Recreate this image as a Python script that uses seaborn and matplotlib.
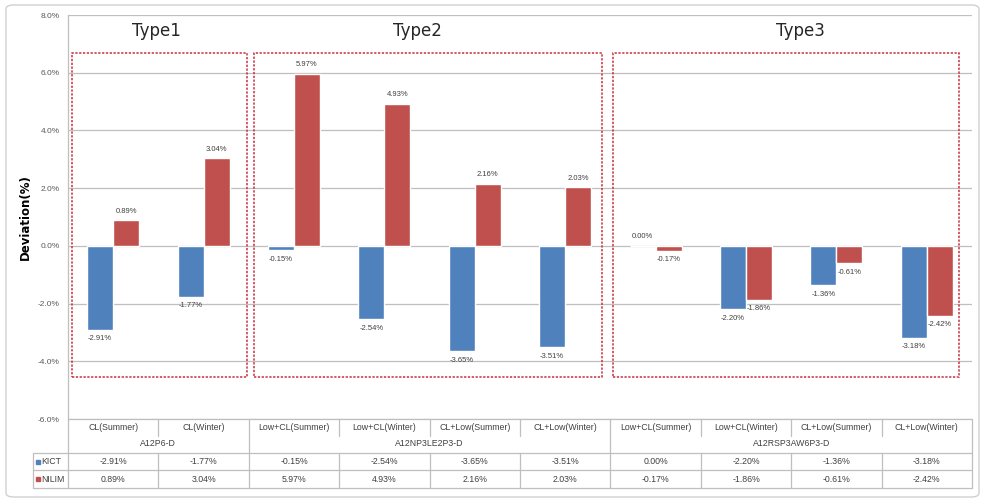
import pandas as pd
import seaborn as sns
import matplotlib.pyplot as plt
from matplotlib.patches import Rectangle, FancyBboxPatch

# chart data
categories = ["CL(Summer)", "CL(Winter)",
              "Low+CL(Summer)", "Low+CL(Winter)", "CL+Low(Summer)", "CL+Low(Winter)",
              "Low+CL(Summer)", "Low+CL(Winter)", "CL+Low(Summer)", "CL+Low(Winter)"]
groups = ["A12P6-D", "A12NP3LE2P3-D", "A12RSP3AW6P3-D"]
group_sizes = [2, 4, 4]
type_names = ["Type1", "Type2", "Type3"]
series = ["KICT", "NILIM"]
kict = [-2.91, -1.77, -0.15, -2.54, -3.65, -3.51, 0.00, -2.20, -1.36, -3.18]
nilim = [0.89, 3.04, 5.97, 4.93, 2.16, 2.03, -0.17, -1.86, -0.61, -2.42]
yticks = [-6, -4, -2, 0, 2, 4, 6, 8]

blue = "#4f81bd"
red = "#c0504d"
grid_c = "#bfbfbf"
txt_c = "#404040"

n = len(categories)
df = pd.DataFrame({
    "pos": list(range(n)) * 2,
    "value": kict + nilim,
    "series": ["KICT"] * n + ["NILIM"] * n,
})

sns.set_theme(style="white")
plt.rcParams["font.family"] = ["Liberation Sans", "DejaVu Sans"]

W, H = 984, 501
fig = plt.figure(figsize=(W / 100, H / 100), dpi=100)
fig.patch.set_facecolor("white")

# plot area in pixels: left 68, right 972, top 15, bottom 419
ax = fig.add_axes([68 / W, 1 - 419 / H, 904 / W, 404 / H])
sns.barplot(data=df, x="pos", y="value", hue="series", hue_order=series,
            order=list(range(n)), palette=[blue, red], saturation=1,
            width=0.575, errorbar=None, legend=False, ax=ax, zorder=2)

ax.set_xlim(-0.5, n - 0.5)
ax.set_ylim(-6, 8)
ax.set_xticks([])
ax.set_xlabel("")
ax.set_yticks(yticks)
ax.set_yticklabels([f"{v:.1f}%" for v in yticks], fontsize=6, color="#595959")
ax.tick_params(axis="y", length=0, pad=6)
ax.yaxis.grid(True, color=grid_c, lw=0.9, zorder=0)
ax.set_axisbelow(True)
for s in ["top", "right", "bottom"]:
    ax.spines[s].set_visible(False)
ax.spines["left"].set_color(grid_c)
ax.spines["left"].set_linewidth(0.9)
ax.set_ylabel("Deviation(%)", fontsize=8.5, fontweight="bold", color="black",
              family=["DejaVu Sans"], labelpad=4)

for cont, vals in zip(ax.containers, [kict, nilim]):
    ax.bar_label(cont, labels=[f"{v:.2f}%" for v in vals], padding=4,
                 fontsize=5.5, color=txt_c)

# dashed "Type" boxes
type_spans = [(-0.46, 1.48), (1.56, 5.41), (5.53, 9.36)]
type_label_x = [0.48, 3.37, 7.6]
for (x0, x1), name, tx in zip(type_spans, type_names, type_label_x):
    ax.add_patch(Rectangle((x0, -4.54), x1 - x0, 6.68 + 4.54, fill=False,
                           ec="#c8303f", lw=1.1, ls=(0, (1.5, 1)), zorder=3))
    ax.text(tx, 7.45, name, ha="center", va="center", fontsize=12,
            color="#262626", family=["DejaVu Sans"])

# data table below the plot
tab = fig.add_axes([33 / W, 1 - 488 / H, (972 - 33) / W, 69 / H])
xmin = -0.5 - 35 / 90.4
tab.set_xlim(xmin, n - 0.5)
tab.set_ylim(69, 0)
tab.axis("off")
lk = dict(color=grid_c, lw=0.9, clip_on=False)
tab.plot([-0.5, n - 0.5], [0, 0], **lk)
for yy in [34, 51, 69]:
    tab.plot([xmin, n - 0.5], [yy, yy], **lk)
tab.plot([xmin, xmin], [34, 69], **lk)
tab.plot([-0.5, -0.5], [0, 69], **lk)
edges = [-0.5]
for g in group_sizes:
    edges.append(edges[-1] + g)
for e in edges[1:]:
    tab.plot([e, e], [0, 69], **lk)
for i in range(n - 1):
    b = i + 0.5
    if b not in edges:
        tab.plot([b, b], [0, 17], **lk)
        tab.plot([b, b], [34, 69], **lk)

for i, c in enumerate(categories):
    tab.text(i, 9, c, ha="center", va="center", fontsize=6.3, color=txt_c)
for g, a, b in zip(groups, edges[:-1], edges[1:]):
    tab.text((a + b) / 2, 25, g, ha="center", va="center", fontsize=6.3, color=txt_c)
for row_y, vals in zip([42.5, 60], [kict, nilim]):
    for i, v in enumerate(vals):
        tab.text(i, row_y, f"{v:.2f}%", ha="center", va="center", fontsize=6.3, color=txt_c)
for row_y, name, col in zip([42.5, 60], series, [blue, red]):
    tab.plot([xmin + 0.05], [row_y], marker="s", ms=3, color=col, clip_on=False)
    tab.text(xmin + 0.09, row_y, name, ha="left", va="center", fontsize=6.3, color=txt_c)

# outer chart frame
fig.patches.append(FancyBboxPatch((6 / W, 4 / H), 973 / W, 492 / H,
                                  boxstyle="round,pad=0,rounding_size=0.008",
                                  transform=fig.transFigure, fill=False,
                                  ec="#d0d0d0", lw=1))

fig.savefig("out.png", dpi=100)
